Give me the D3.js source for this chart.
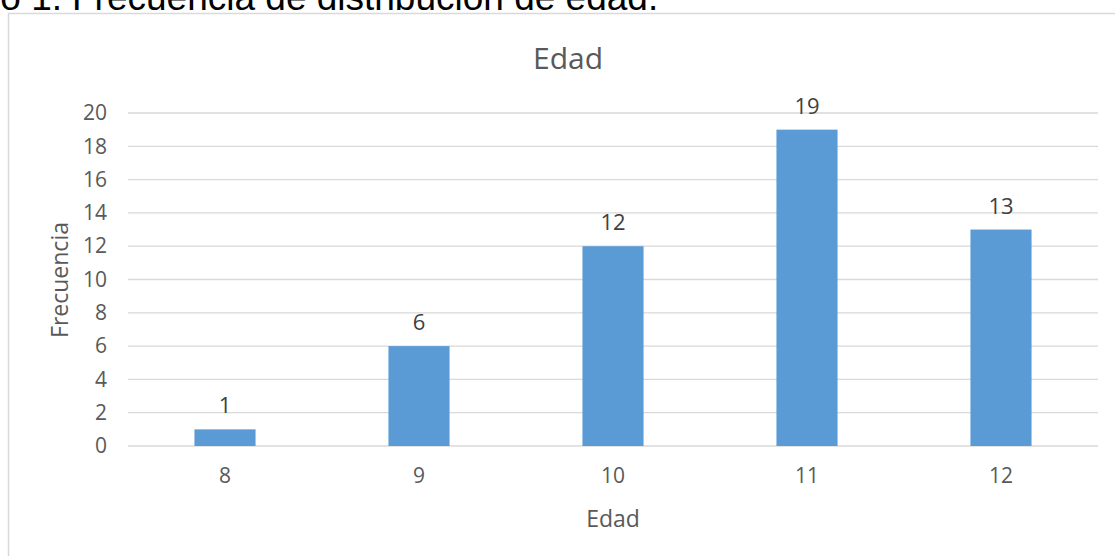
<!DOCTYPE html>
<html>
<head>
<meta charset="utf-8">
<script src="https://cdn.jsdelivr.net/npm/d3@7"></script>
<style>
  body { margin: 0; background: #fff; }
  text { font-family: "Open Sans", sans-serif; }
</style>
</head>
<body>
<div id="canvas"></div>
<script>
// datos
const edades = ["8", "9", "10", "11", "12"];
const frecuencias = [1, 6, 12, 19, 13];
const yTicks = [0, 2, 4, 6, 8, 10, 12, 14, 16, 18, 20];

const width = 1115;
const height = 556;
const margin = { top: 113, left: 128, bottom: 110, right: 17 };
const iwidth = width - margin.left - margin.right;
const iheight = height - margin.top - margin.bottom;

const svg = d3.select("#canvas").append("svg")
    .attr("width", width)
    .attr("height", height);

// caption cortado arriba (igual que la imagen original)
svg.append("text")
    .attr("x", 62).attr("y", 10)
    .attr("text-anchor", "end")
    .style("font-family", "'Liberation Sans', Arial, sans-serif")
    .style("font-size", "37px")
    .attr("fill", "#000")
    .text("Gráfico 1.");
svg.append("text")
    .attr("x", 72).attr("y", 10)
    .style("font-family", "'Liberation Sans', Arial, sans-serif")
    .style("font-size", "37px")
    .attr("fill", "#000")
    .text("Frecuencia de distribución de edad.");

// marco del grafico
svg.append("rect")
    .attr("x", 8.5).attr("y", 13.5)
    .attr("width", 1130).attr("height", 560)
    .attr("fill", "none")
    .attr("stroke", "#d9d9d9")
    .attr("stroke-width", 1.5);

let g = svg.append("g").attr("transform", `translate(${margin.left},${margin.top})`);

const p = 0.685;
const x = d3.scaleBand()
    .domain(edades)
    .range([0, iwidth])
    .paddingInner(p)
    .paddingOuter(p / 2);

const y = d3.scaleLinear()
    .domain([0, 20])
    .range([iheight, 0]);

// grid
g.append("g")
    .selectAll("line")
    .data(yTicks)
    .enter().append("line")
    .attr("x1", 0).attr("x2", iwidth)
    .attr("y1", d => y(d)).attr("y2", d => y(d))
    .attr("stroke", "#d9d9d9")
    .attr("stroke-width", 1.3);

// eje y
const yAxis = g.append("g")
    .call(d3.axisLeft(y).tickValues(yTicks).tickSize(0).tickPadding(21));
yAxis.select(".domain").remove();
yAxis.selectAll("text")
    .style("font-size", "21px")
    .style("font-family", "'Open Sans', sans-serif")
    .attr("fill", "#595959");

// eje x
const xAxis = g.append("g")
    .attr("transform", `translate(0, ${iheight})`)
    .call(d3.axisBottom(x).tickSize(0).tickPadding(22));
xAxis.select(".domain").remove();
xAxis.selectAll("text")
    .style("font-size", "21px")
    .style("font-family", "'Open Sans', sans-serif")
    .attr("fill", "#595959");

// barras
g.selectAll("rect.bar")
    .data(frecuencias)
    .enter().append("rect")
    .attr("class", "bar")
    .attr("x", (d, i) => x(edades[i]))
    .attr("y", d => y(d))
    .attr("width", x.bandwidth())
    .attr("height", d => iheight - y(d))
    .style("fill", "#5b9bd5");

// etiquetas de datos
g.selectAll("text.lbl")
    .data(frecuencias)
    .enter().append("text")
    .attr("class", "lbl")
    .attr("x", (d, i) => x(edades[i]) + x.bandwidth() / 2)
    .attr("y", d => y(d) - 16)
    .attr("text-anchor", "middle")
    .style("font-size", "22px")
    .attr("fill", "#404040")
    .text(d => d);

// titulos
svg.append("text")
    .attr("x", 568).attr("y", 69)
    .attr("text-anchor", "middle")
    .style("font-size", "30px")
    .attr("fill", "#595959")
    .text("Edad");

svg.append("text")
    .attr("x", margin.left + iwidth / 2).attr("y", 527)
    .attr("text-anchor", "middle")
    .style("font-size", "23px")
    .attr("fill", "#595959")
    .text("Edad");

svg.append("text")
    .attr("transform", `translate(68, 280) rotate(-90)`)
    .attr("text-anchor", "middle")
    .style("font-size", "23px")
    .attr("fill", "#595959")
    .text("Frecuencia");
</script>
</body>
</html>
